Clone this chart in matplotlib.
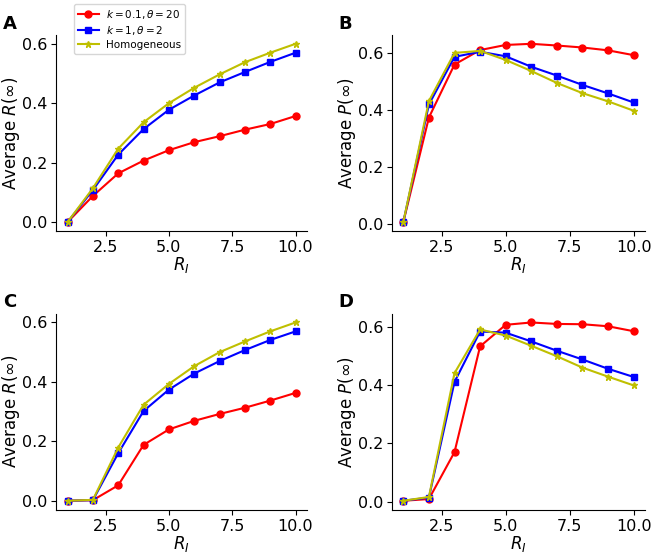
import matplotlib
matplotlib.use('Agg')
import matplotlib.pyplot as plt
import numpy as np

# R_I values shared by all panels
r_i = [1, 2, 3, 4, 5, 6, 7, 8, 9, 10]

# Panel A: average R(inf)
a_gamma01 = [0.0, 0.088, 0.164, 0.207, 0.242, 0.269, 0.289, 0.311, 0.330, 0.357]
a_gamma1 = [0.0, 0.108, 0.227, 0.313, 0.378, 0.426, 0.470, 0.505, 0.539, 0.570]
a_homog = [0.0, 0.114, 0.247, 0.336, 0.400, 0.452, 0.497, 0.538, 0.570, 0.600]

# Panel B: average P(inf)
b_gamma01 = [0.005, 0.374, 0.561, 0.612, 0.630, 0.634, 0.628, 0.621, 0.611, 0.594]
b_gamma1 = [0.005, 0.420, 0.588, 0.606, 0.590, 0.553, 0.522, 0.489, 0.459, 0.427]
b_homog = [0.005, 0.432, 0.602, 0.609, 0.577, 0.538, 0.496, 0.460, 0.431, 0.398]

# Panel C: average R(inf)
c_gamma01 = [0.0, 0.002, 0.052, 0.188, 0.240, 0.269, 0.292, 0.313, 0.337, 0.363]
c_gamma1 = [0.0, 0.002, 0.160, 0.302, 0.374, 0.428, 0.470, 0.507, 0.541, 0.570]
c_homog = [0.0, 0.003, 0.179, 0.323, 0.393, 0.453, 0.500, 0.536, 0.570, 0.600]

# Panel D: average P(inf)
d_gamma01 = [0.003, 0.009, 0.170, 0.533, 0.607, 0.615, 0.610, 0.609, 0.602, 0.585]
d_gamma1 = [0.003, 0.014, 0.411, 0.584, 0.580, 0.550, 0.518, 0.488, 0.456, 0.428]
d_homog = [0.003, 0.016, 0.441, 0.591, 0.570, 0.535, 0.499, 0.460, 0.429, 0.399]

labels = [r'$k=0.1, \theta=20$', r'$k=1, \theta=2$', 'Homogeneous']

plt.rc('xtick', labelsize=11.5)
plt.rc('ytick', labelsize=11.5)
plt.rc('axes', labelsize=12)

fig = plt.figure(figsize=(6.53, 5.54), dpi=100)

panels = [
    ('A', [0.086, 0.583, 0.384, 0.354], (a_gamma01, a_gamma1, a_homog), r'Average $R(\infty)$', (0.005, 0.957)),
    ('B', [0.600, 0.583, 0.388, 0.354], (b_gamma01, b_gamma1, b_homog), r'Average $P(\infty)$', (0.518, 0.957)),
    ('C', [0.086, 0.080, 0.384, 0.354], (c_gamma01, c_gamma1, c_homog), r'Average $R(\infty)$', (0.005, 0.455)),
    ('D', [0.600, 0.080, 0.388, 0.354], (d_gamma01, d_gamma1, d_homog), r'Average $P(\infty)$', (0.518, 0.455)),
]

lines = []
for letter, pos, series, ylab, lpos in panels:
    ax = fig.add_axes(pos)
    l1, = ax.plot(r_i, series[0], 'r-o', markersize=5, label=labels[0])
    l2, = ax.plot(r_i, series[1], 'b-s', markersize=5, label=labels[1])
    l3, = ax.plot(r_i, series[2], 'y-*', markersize=5, label=labels[2])
    if not lines:
        lines = [l1, l2, l3]
    ax.spines['top'].set_visible(False)
    ax.spines['right'].set_visible(False)
    ax.set_xticks([2.5, 5.0, 7.5, 10.0])
    ax.set_yticks([0.0, 0.2, 0.4, 0.6])
    ax.tick_params(axis='x', pad=3)
    ax.tick_params(axis='y', pad=2.5)
    ax.set_xlabel(r'$R_I$', labelpad=0)
    ax.set_ylabel(ylab, labelpad=0)
    fig.text(lpos[0], lpos[1], letter, fontsize=13, fontweight='bold', va='center')

fig.legend(lines, labels, loc='upper left', bbox_to_anchor=(0.105, 1.003),
           fontsize=7.5, handlelength=2.0, borderpad=0.4, labelspacing=0.3,
           handletextpad=0.7)

fig.savefig('out.png', dpi=100)
